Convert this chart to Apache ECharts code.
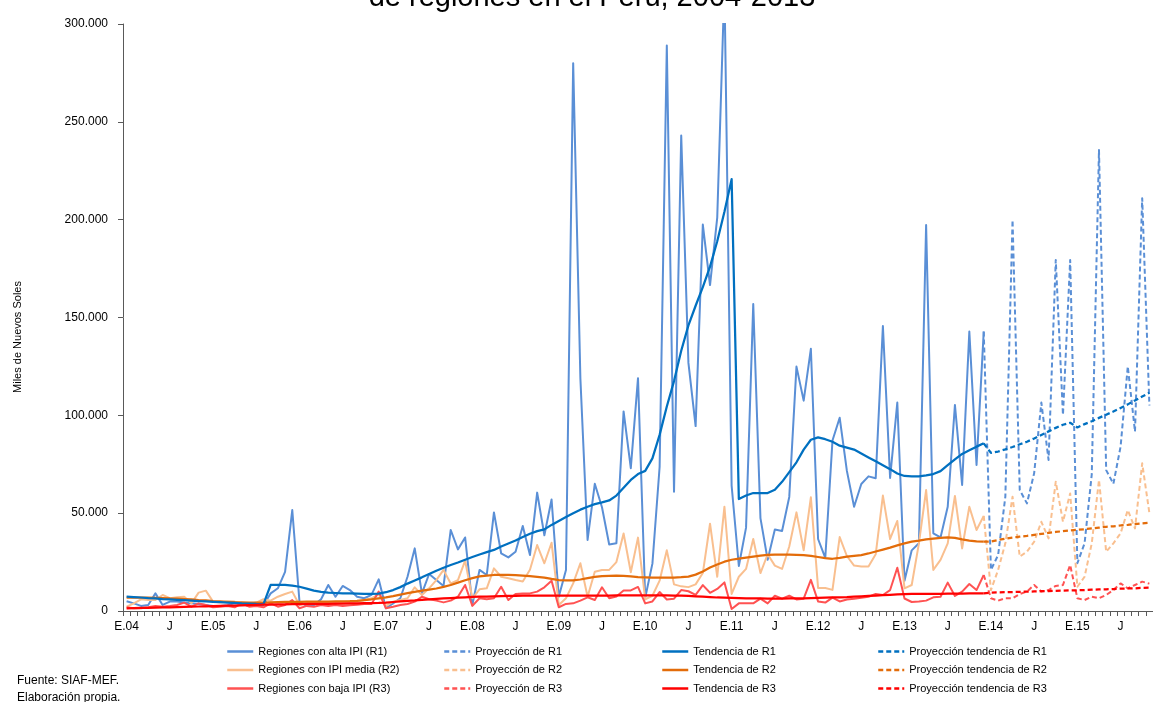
<!DOCTYPE html>
<html>
<head>
<meta charset="utf-8">
<script src="https://cdn.jsdelivr.net/npm/echarts@6/dist/echarts.min.js"></script>
<style>
  html, body { margin: 0; padding: 0; background: #fff; }
  #chart { width: 1153px; height: 702px; }
</style>
</head>
<body>
<div id="chart"></div>
<script>
// meses: Ene.2004 .. Nov.2015 (el gráfico original está recortado a la derecha)
const monthLetters = ['E', 'F', 'M', 'A', 'M', 'J', 'J', 'A', 'S', 'O', 'N', 'D'];
const years = ['04', '05', '06', '07', '08', '09', '10', '11', '12', '13', '14', '15'];
const nMonths = 143;
const yTicks = [0, 50, 100, 150, 200, 250, 300];

// miles de nuevos soles (en miles) - series observadas, desde Ene.04
const r1 = [5.0, 3.9, 2.6, 3.1, 9.0, 3.1, 4.8, 4.8, 4.3, 3.9, 3.6, 3.1,
  2.6, 2.5, 3.0, 4.0, 3.5, 2.5, 3.0, 3.1, 9.0, 11.6, 20, 51.6,
  4.8, 2.6, 3.0, 6.0, 13.3, 7.3, 12.8, 10.7, 7.3, 6.5, 8.2, 16.2,
  1.4, 3.9, 6.5, 17.5, 32, 9, 18.9, 15.8, 12.8, 41.4, 31.5, 37.6,
  3.1, 21, 18.4, 50.4, 29.5, 27.4, 30.3, 43.4, 28.6, 60.5, 38.7, 57,
  7.3, 21, 280, 119, 36.3, 65, 53, 34, 34.6, 102, 73, 119,
  6.8, 24.2, 73.6, 289, 61, 243, 126.8, 94.5, 197.5, 166.6, 201, 320,
  64, 23, 42.6, 156.9, 47.5, 26.2, 41.6, 40.9, 58.3, 124.9, 107.5, 134,
  36.8, 27.1, 87.1, 98.8, 71.6, 53.3, 64.9, 68.8, 67.8, 145.6, 68, 106.5,
  15.5, 31, 34.6, 197.3, 39.7, 37.6, 53.3, 105.3, 64.4, 142.8, 74.6, 142.8];
const r2 = [2.2, 3.9, 6.0, 5.6, 5.6, 8.2, 6.5, 7.0, 7.3, 3.9, 9.4, 10.4,
  4.8, 4.3, 4.8, 4.8, 3.9, 3.6, 4.3, 6.0, 5.3, 7.3, 8.7, 9.9,
  3.1, 3.9, 4.3, 4.3, 4.3, 4.6, 4.6, 4.8, 4.8, 5.6, 6.5, 8.5,
  2.6, 4.8, 5.6, 6.5, 12.1, 8.2, 11.6, 15.8, 21, 14.1, 15.8, 25.7,
  6.5, 11.1, 11.6, 21.8, 17.5, 16.7, 15.8, 15.1, 21.1, 33.7, 24.4, 34.9,
  3.1, 6.5, 14.1, 24.4, 7.3, 20.1, 21, 21, 25, 39.6, 19.8, 37.5,
  5.9, 7.8, 15.5, 31, 13.6, 12.6, 12.2, 13.6, 19.4, 44.6, 17.5, 53.3,
  8.7, 17.5, 21.5, 36.8, 19.4, 29, 23.2, 21.5, 33, 50.4, 31, 58.1,
  11.8, 11.8, 10.8, 37.8, 28.1, 23.2, 22.8, 22.8, 29, 59, 36.8, 46,
  11.6, 13.3, 34.6, 61.8, 21, 26.1, 34.6, 58.8, 32, 53.3, 41.4, 48.6];
const r3 = [1.9, 1.4, 1.4, 1.9, 2.6, 2.2, 2.6, 3.1, 4.3, 2.2, 3.9, 3.1,
  1.9, 2.2, 2.6, 1.9, 3.9, 2.2, 2.6, 1.9, 3.9, 2.2, 3.1, 5.6,
  1.4, 2.6, 2.2, 3.1, 2.6, 3.1, 2.6, 2.9, 3.2, 3.6, 3.6, 9.9,
  1.4, 2.2, 3.1, 3.6, 4.8, 7.3, 6.0, 5.3, 4.4, 5.3, 7.3, 13.3,
  2.6, 6.5, 6.0, 6.5, 12.4, 5.6, 8.7, 9.0, 9.0, 9.9, 12.1, 15.5,
  1.9, 3.6, 3.9, 5.3, 7.0, 5.6, 12.1, 6.5, 7.4, 10.5, 10.5, 12.3,
  3.9, 4.9, 9.7, 5.9, 6.3, 10.7, 10.1, 8.2, 13.2, 9.3, 11.3, 14.6,
  1.0, 3.9, 3.9, 3.9, 6.3, 3.9, 7.8, 6.3, 7.8, 5.9, 6.3, 15.9,
  4.9, 4.3, 6.8, 4.9, 5.9, 6.3, 6.8, 7.3, 8.7, 8.2, 10.7, 22.1,
  6.4, 4.6, 4.8, 5.3, 7.0, 7.3, 14.5, 7.7, 9.9, 13.8, 10.7, 18.4];

// tendencias, desde Ene.04
const t1 = [7.3, 7.1, 6.9, 6.6, 6.4, 6.1, 5.9, 5.7, 5.5, 5.3, 5.1, 4.9,
  4.7, 4.5, 4.3, 4.1, 3.9, 3.8, 3.6, 3.5, 13.3, 13.4, 13.3, 13.0,
  12.4, 11.4, 10.4, 9.8, 9.4, 9.2, 9.0, 9.0, 8.9, 8.8, 8.7, 8.9,
  9.6, 10.7, 12.2, 14.0, 15.6, 17.2, 18.9, 20.6, 22.1, 23.5, 24.8, 26.2,
  27.6, 28.9, 30.1, 31.2, 33.0, 34.5, 36.0, 37.8, 39.5, 40.8, 41.7, 44.0,
  46.0, 48.0, 50.0, 51.8, 53.3, 54.6, 55.5, 56.5, 59.0, 63.0, 67.0, 70.0,
  71.6, 78.0, 90.0, 104.5, 117.5, 133.0, 146.0, 156.0, 165.5, 176.0, 189.0, 204.0,
  220.7, 57.2, 59.0, 60.3, 60.3, 60.3, 62.0, 66.0, 71.0, 76.0, 82.5, 87.5,
  88.7, 87.8, 86.5, 84.5, 83.5, 82.5, 80.5, 78.5, 76.5, 74.5, 72.5, 70.3,
  69.0, 68.8, 68.8, 69.3, 70.0, 71.5, 74.5, 77.5, 80.3, 82.2, 84.0, 85.7];
const t2 = [6.8, 6.8, 6.8, 6.8, 6.7, 6.6, 6.4, 6.3, 6.1, 5.9, 5.6, 5.4,
  5.1, 4.9, 4.7, 4.5, 4.4, 4.3, 4.3, 4.3, 4.4, 4.5, 4.6, 4.6,
  4.7, 4.8, 4.8, 4.8, 4.8, 4.9, 4.9, 5.0, 5.2, 5.6, 6.0, 6.5,
  7.0, 7.6, 8.4, 9.1, 9.8, 10.4, 10.9, 11.5, 12.3, 13.3, 14.5, 15.7,
  16.8, 17.7, 18.1, 18.4, 18.5, 18.4, 18.3, 18.1, 17.8, 17.5, 17.1, 16.4,
  15.8, 15.7, 15.7, 16.1, 16.8, 17.4, 17.8, 18.0, 18.1, 18.0, 17.7, 17.3,
  17.2, 17.1, 17.1, 17.1, 17.1, 17.3, 17.6, 18.6, 20.2, 22.2, 23.8, 25.2,
  26.2, 26.8, 27.3, 27.8, 28.3, 28.7, 28.8, 28.8, 28.8, 28.7, 28.5, 28.2,
  27.6, 27.0, 26.7, 27.2, 27.8, 28.2, 28.6, 29.4, 30.4, 31.4, 32.4, 33.5,
  34.6, 35.5, 36.0, 36.6, 37.0, 37.4, 37.6, 37.4, 36.6, 36.0, 35.6, 35.4];
const t3 = [1.4, 1.5, 1.6, 1.6, 1.7, 1.8, 1.9, 2.0, 2.1, 2.2, 2.3, 2.4,
  2.5, 2.6, 2.7, 2.8, 2.9, 3.0, 3.1, 3.2, 3.3, 3.4, 3.4, 3.5,
  3.5, 3.6, 3.6, 3.7, 3.7, 3.8, 3.8, 3.9, 3.9, 4.0, 4.0, 4.1,
  4.3, 4.6, 4.9, 5.2, 5.4, 5.7, 6.0, 6.2, 6.4, 6.6, 6.8, 7.0,
  7.2, 7.3, 7.4, 7.5, 7.6, 7.7, 7.7, 7.8, 7.8, 7.8, 7.8, 7.8,
  7.8, 7.8, 7.8, 7.8, 7.9, 7.9, 7.9, 7.9, 8.0, 8.0, 8.0, 8.0,
  8.0, 8.0, 8.0, 8.0, 7.9, 7.8, 7.7, 7.5, 7.3, 7.1, 6.9, 6.8,
  6.7, 6.6, 6.5, 6.4, 6.4, 6.3, 6.3, 6.3, 6.4, 6.4, 6.5, 6.6,
  6.7, 6.8, 6.9, 7.0, 7.1, 7.3, 7.5, 7.7, 7.9, 8.1, 8.3, 8.5,
  8.6, 8.7, 8.8, 8.8, 8.8, 8.8, 8.9, 8.9, 8.9, 9.0, 9.0, 9.0];

// proyecciones, desde Dic.13 (índice 119)
const projStart = 119;
const p1 = [142.8, 21, 28.6, 58.4, 199.8, 61.8, 55, 70.4, 106.5, 77.2, 179.4, 100.2,
  179.4, 24.4, 34.6, 70, 235.6, 72, 65, 84, 125, 91.7, 211, 105];
const p2 = [48.6, 10.7, 21, 34.6, 58.4, 27.8, 30.3, 35.4, 45.6, 37.1, 66.1, 45.6,
  60.1, 12.4, 17.5, 34.6, 67, 30.3, 34.6, 39.7, 51.6, 42.2, 75.5, 50];
const p3 = [18.4, 6.5, 5.3, 6.5, 6.5, 8.7, 9.9, 13.3, 9.9, 10.7, 12.8, 13.3,
  23.5, 6.5, 5.6, 7.3, 6.5, 8.2, 10.7, 14.1, 11.6, 13.3, 15, 14];
const pt1 = [85.7, 80.8, 81.5, 82.6, 83.8, 85.2, 86.5, 88.2, 90.0, 91.8, 93.6, 95.2,
  96.2, 93.8, 95.5, 97.0, 98.7, 100.3, 102.0, 103.8, 105.6, 107.6, 109.6, 111.5];
const pt2 = [35.4, 35.5, 36.3, 37.0, 37.5, 38.0, 38.4, 38.9, 39.4, 39.9, 40.4, 40.8,
  41.2, 41.5, 41.8, 42.2, 42.6, 43.0, 43.3, 43.7, 44.0, 44.4, 44.8, 45.1];
const pt3 = [9.0, 9.4, 9.5, 9.6, 9.7, 9.8, 9.9, 10.0, 10.1, 10.2, 10.3, 10.4,
  10.5, 10.6, 10.7, 10.9, 11.0, 11.1, 11.2, 11.4, 11.5, 11.6, 11.8, 11.9];

const categories = [];
years.forEach(y => monthLetters.forEach((m, i) => categories.push(i === 0 ? 'E.' + y : m)));
categories.length = nMonths;

function pad(arr, start) {
  const out = new Array(nMonths).fill(null);
  arr.forEach((v, i) => { out[start + i] = v; });
  return out;
}

const C = {
  r1: '#5A8FD6', r2: '#F9BF8F', r3: '#FF5252',
  t1: '#0070C0', t2: '#E36C0A', t3: '#FF0000'
};

function line(name, data, color, width, dashed, z) {
  return {
    name: name,
    type: 'line',
    data: data,
    symbol: 'none',
    z: z,
    lineStyle: { color: color, width: width, type: dashed ? [5, 3] : 'solid', join: 'round' },
    itemStyle: { color: color }
  };
}

const series = [
  line('Regiones con alta IPI (R1)', pad(r1, 0), C.r1, 2, false, 2),
  line('Regiones con IPI media (R2)', pad(r2, 0), C.r2, 2, false, 2),
  line('Regiones con baja IPI (R3)', pad(r3, 0), C.r3, 2, false, 2),
  line('Proyección de R1', pad(p1, projStart), C.r1, 2, true, 2),
  line('Proyección de R2', pad(p2, projStart), C.r2, 2, true, 2),
  line('Proyección de R3', pad(p3, projStart), C.r3, 2, true, 2),
  line('Tendencia de R2', pad(t2, 0), C.t2, 2.25, false, 3),
  line('Tendencia de R1', pad(t1, 0), C.t1, 2.25, false, 3),
  line('Tendencia de R3', pad(t3, 0), C.t3, 2.25, false, 3),
  line('Proyección tendencia de R1', pad(pt1, projStart), C.t1, 2.25, true, 3),
  line('Proyección tendencia de R2', pad(pt2, projStart), C.t2, 2.25, true, 3),
  line('Proyección tendencia de R3', pad(pt3, projStart), C.t3, 2.25, true, 3)
];

function legendCol(names, left) {
  return {
    data: names,
    orient: 'vertical',
    left: left,
    top: 646,
    padding: 0,
    itemWidth: 26,
    itemHeight: 12,
    itemGap: 7.5,
    selectedMode: false,
    itemStyle: { opacity: 0 },
    lineStyle: { width: 2.5 },
    textStyle: { fontFamily: 'Liberation Sans', fontSize: 11, color: '#000' }
  };
}

const chart = echarts.init(document.getElementById('chart'));
chart.setOption({
  animation: false,
  textStyle: { fontFamily: 'Liberation Sans' },
  grid: { left: 123, top: 24, bottom: 91, right: 1153 - 123 - nMonths * 7.26 },
  graphic: [
    {
      type: 'text', x: 592, y: -2,
      style: { text: 'de regiones en el Perú, 2004-2013', font: '29px "Liberation Sans"', fill: '#000',
        align: 'center', verticalAlign: 'middle' }
    },
    {
      type: 'text', x: 18, y: 337, rotation: Math.PI / 2,
      style: { text: 'Miles de Nuevos Soles', font: '11px "Liberation Sans"', fill: '#000',
        align: 'center', verticalAlign: 'middle' }
    },
    {
      type: 'text', x: 17, y: 681,
      style: { text: 'Fuente: SIAF-MEF.', font: '12px "Liberation Sans"', fill: '#000', verticalAlign: 'middle' }
    },
    {
      type: 'text', x: 17, y: 698,
      style: { text: 'Elaboración propia.', font: '12px "Liberation Sans"', fill: '#000', verticalAlign: 'middle' }
    }
  ],
  legend: [
    legendCol(['Regiones con alta IPI (R1)', 'Regiones con IPI media (R2)', 'Regiones con baja IPI (R3)'], 226),
    legendCol(['Proyección de R1', 'Proyección de R2', 'Proyección de R3'], 443),
    legendCol(['Tendencia de R1', 'Tendencia de R2', 'Tendencia de R3'], 661),
    legendCol(['Proyección tendencia de R1', 'Proyección tendencia de R2', 'Proyección tendencia de R3'], 877)
  ],
  xAxis: {
    type: 'category',
    data: categories,
    boundaryGap: true,
    axisLine: { lineStyle: { color: '#595959', width: 1 } },
    axisTick: { show: true, interval: 0, length: 5, lineStyle: { color: '#595959' } },
    axisLabel: { interval: 5, margin: 10, fontSize: 12, color: '#000' }
  },
  yAxis: {
    type: 'value',
    min: yTicks[0],
    max: yTicks[yTicks.length - 1],
    interval: 50,
    splitLine: { show: false },
    axisLine: { show: true, lineStyle: { color: '#595959', width: 1 } },
    axisTick: { show: true, length: 5, lineStyle: { color: '#595959' } },
    axisLabel: {
      margin: 15, fontSize: 12, color: '#000',
      formatter: v => v === 0 ? '0' : v + '.000'
    }
  },
  series: series
});
</script>
</body>
</html>
